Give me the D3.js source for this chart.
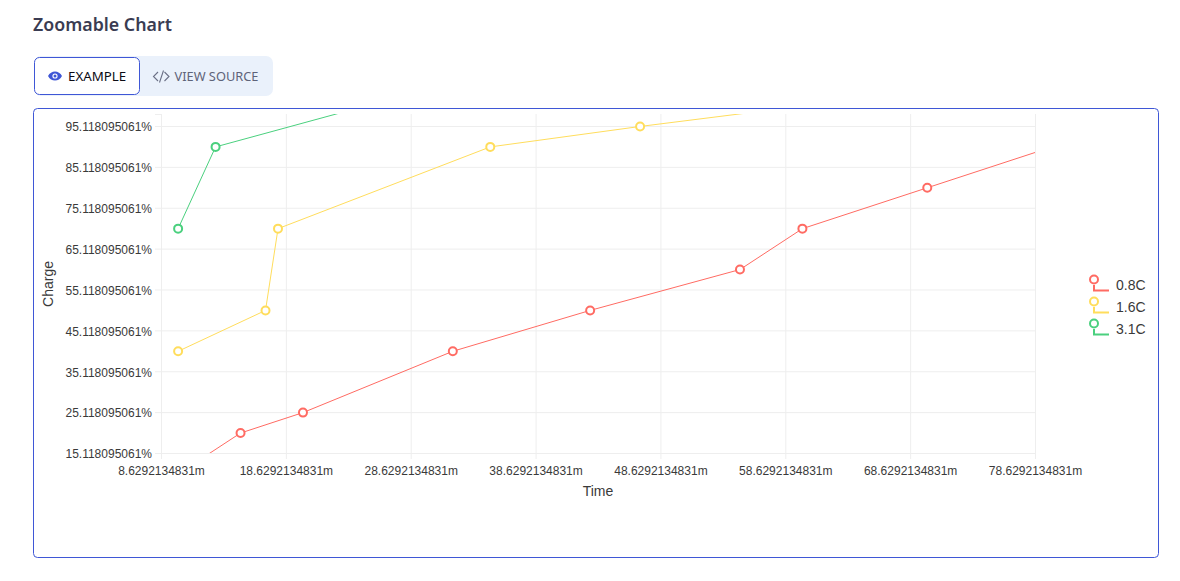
<!DOCTYPE html>
<html><head><meta charset="utf-8">
<script src="https://cdn.jsdelivr.net/npm/d3@7"></script>
<style>
html,body{margin:0;padding:0;background:#fff;overflow:hidden;}
body{width:1180px;height:581px;position:relative;}
svg{position:absolute;left:0;top:0;}
</style></head><body><div id="chart"></div>
<script>
const seriesNames = ["0.8C","1.6C","3.1C"];
const seriesColors = ["#ff6b63","#ffdd5c","#4ad07e"];
const times08 = [10,15,20,32,43,55,60,70,80];
const charge08 = [10,20,25,40,50,60,70,80,90];
const times16 = [10,17,18,35,47,60];
const charge16 = [40,50,70,90,95,100];
const times31 = [10,13,25];
const charge31 = [70,90,100];
const xTicks = [8.6292134831,18.6292134831,28.6292134831,38.6292134831,48.6292134831,58.6292134831,68.6292134831,78.6292134831];
const yTicks = [15.118095061,25.118095061,35.118095061,45.118095061,55.118095061,65.118095061,75.118095061,85.118095061,95.118095061];
const xDomain = [8.6292134831,78.6292134831];
const yDomain = [15.118095061,98.05];

const W=1180,H=581;
const m={l:161,r:1035,t:114,b:453};
const svg=d3.select("#chart").append("svg").attr("width",W).attr("height",H);
const FONT="'Liberation Sans',Arial,sans-serif";
const UI="'Noto Sans',sans-serif";

// page chrome
svg.append("text").attr("x",33).attr("y",31).attr("font-family",UI).attr("font-size",17.8).attr("font-weight",600).attr("fill","#3a3c52").text("Zoomable Chart");
svg.append("rect").attr("x",34).attr("y",56).attr("width",239).attr("height",40).attr("rx",7).attr("fill","#eaf1fb");
svg.append("rect").attr("x",34.5).attr("y",57.5).attr("width",105).attr("height",37).attr("rx",5).attr("fill","#fff").attr("stroke","#3f57d6").attr("stroke-width",1);
const eye=svg.append("g").attr("transform","translate(55,76)");
eye.append("path").attr("d","M-7,0C-4,-6 4,-6 7,0C4,6 -4,6 -7,0Z").attr("fill","#3f57d6");
eye.append("circle").attr("r",2.6).attr("fill","#fff");
eye.append("circle").attr("r",1.5).attr("fill","#3f57d6");
svg.append("text").attr("x",68).attr("y",81).attr("font-family",UI).attr("font-size",13.3).attr("fill","#0b0b14").text("EXAMPLE");
svg.append("path").attr("d","M158,72L153.5,76.5L158,81M159.5,82.5L163.5,70.5M164.5,72L169,76.5L164.5,81").attr("fill","none").attr("stroke","#6b7086").attr("stroke-width",1.1);
svg.append("text").attr("x",174.5).attr("y",81).attr("font-family",UI).attr("font-size",12.8).attr("fill","#5e6379").text("VIEW SOURCE");
svg.append("rect").attr("x",33.5).attr("y",108.5).attr("width",1125).attr("height",449).attr("rx",4).attr("fill","#fff").attr("stroke","#3f57d6").attr("stroke-width",1);

const x=d3.scaleLinear().domain(xDomain).range([m.l,m.r]);
const y=d3.scaleLinear().domain(yDomain).range([m.b,m.t]);

// axes with grid
const gx=svg.append("g").attr("transform",`translate(0,${m.b})`)
  .call(d3.axisBottom(x).tickValues(xTicks).tickFormat(d=>d.toFixed(10)+"m").tickSize(6).tickPadding(7));
gx.selectAll(".tick").append("line").attr("y1",0).attr("y2",m.t-m.b);
const gy=svg.append("g").attr("transform",`translate(${m.l},0)`)
  .call(d3.axisLeft(y).tickValues(yTicks).tickFormat(d=>d.toFixed(9)+"%").tickSize(6));
gy.selectAll(".tick").append("line").attr("x1",0).attr("x2",m.r-m.l);
gy.selectAll(".tick text").attr("y",1);
[gx,gy].forEach(g=>{
  g.select(".domain").attr("stroke","#eeeeee");
  g.selectAll(".tick line").attr("stroke","#eeeeee");
  g.selectAll("text").attr("font-family",FONT).attr("font-size",12).attr("fill","#3a3a3a");
});
svg.append("text").attr("x",598).attr("y",496).attr("text-anchor","middle").attr("font-family",FONT).attr("font-size",14).attr("fill","#3a3a3a").text("Time");
svg.append("text").attr("transform","translate(53,284) rotate(-90)").attr("text-anchor","middle").attr("font-family",FONT).attr("font-size",14).attr("fill","#3a3a3a").text("Charge");

// series
svg.append("clipPath").attr("id","plot").append("rect").attr("x",m.l).attr("y",m.t).attr("width",m.r-m.l).attr("height",m.b-m.t);
const series=[[times08,charge08],[times16,charge16],[times31,charge31]];
const line=d3.line().x(d=>x(d[0])).y(d=>y(d[1]));
const plot=svg.append("g").attr("clip-path","url(#plot)");
series.forEach((s,i)=>{
  const pts=d3.zip(s[0],s[1]);
  plot.append("path").datum(pts).attr("d",line).attr("fill","none").attr("stroke",seriesColors[i]).attr("stroke-width",1);
  plot.selectAll(null).data(pts).enter().append("circle")
    .attr("cx",d=>x(d[0])).attr("cy",d=>y(d[1])).attr("r",4)
    .attr("fill","#fff").attr("stroke",seriesColors[i]).attr("stroke-width",2);
});

// legend
seriesNames.forEach((n,i)=>{
  const ly=285+i*22;
  const g=svg.append("g").attr("transform",`translate(1094,${ly})`);
  g.append("path").attr("d","M0,0V5.5H15").attr("fill","none").attr("stroke",seriesColors[i]).attr("stroke-width",2);
  g.append("circle").attr("cy",-5.5).attr("r",4).attr("fill","#fff").attr("stroke",seriesColors[i]).attr("stroke-width",2);
  g.append("text").attr("x",22).attr("y",5).attr("font-family",FONT).attr("font-size",14).attr("fill","#3a3a3a").text(n);
});
</script></body></html>
